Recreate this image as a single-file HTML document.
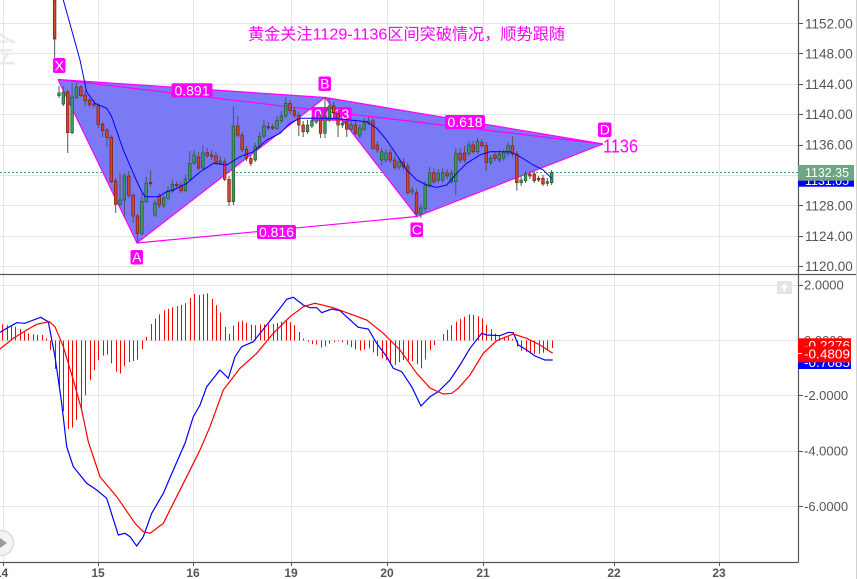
<!DOCTYPE html>
<html><head><meta charset="utf-8">
<style>
html,body{margin:0;padding:0;background:#fff;}
svg{display:block;font-family:"Liberation Sans","Noto Sans CJK SC",sans-serif;}
</style></head>
<body>
<svg id="s" width="857" height="579" viewBox="0 0 857 579" xmlns="http://www.w3.org/2000/svg">
<rect x="0" y="0" width="857" height="579" fill="#fff"/>
<!-- watermark -->
<text x="-23" y="62" font-size="40" fill="#ebebeb" font-family="Noto Sans CJK SC, sans-serif">金</text>
<!-- grid -->
<g stroke="#e6e6e6" stroke-width="1">
<line x1="3.5" y1="0" x2="3.5" y2="562"/><line x1="98.5" y1="0" x2="98.5" y2="562"/>
<line x1="193.5" y1="0" x2="193.5" y2="562"/><line x1="291.5" y1="0" x2="291.5" y2="562"/>
<line x1="387.5" y1="0" x2="387.5" y2="562"/><line x1="483.5" y1="0" x2="483.5" y2="562"/>
<line x1="614.5" y1="0" x2="614.5" y2="562"/><line x1="719.5" y1="0" x2="719.5" y2="562"/>
<line x1="0" y1="23.5" x2="798" y2="23.5"/><line x1="0" y1="53.5" x2="798" y2="53.5"/>
<line x1="0" y1="84.5" x2="798" y2="84.5"/><line x1="0" y1="114.5" x2="798" y2="114.5"/>
<line x1="0" y1="145.5" x2="798" y2="145.5"/><line x1="0" y1="175.5" x2="798" y2="175.5"/>
<line x1="0" y1="205.5" x2="798" y2="205.5"/><line x1="0" y1="236.5" x2="798" y2="236.5"/>
<line x1="0" y1="266.5" x2="798" y2="266.5"/>
<line x1="0" y1="285.5" x2="798" y2="285.5"/><line x1="0" y1="340.5" x2="798" y2="340.5"/>
<line x1="0" y1="395.5" x2="798" y2="395.5"/><line x1="0" y1="451.5" x2="798" y2="451.5"/>
<line x1="0" y1="506.5" x2="798" y2="506.5"/>
</g>
<!-- last price dotted -->
<line x1="0" y1="172.5" x2="798" y2="172.5" stroke="#4f9a6b" stroke-width="1" stroke-dasharray="2 2"/>
<!-- harmonic pattern fills -->
<polygon points="58,79.5 137,243 325,97.5" fill="#7a7af5"/>
<polygon points="325,97.5 417,216.5 603,144" fill="#7a7af5"/>
<g stroke="#ff00ff" stroke-width="1.2" fill="none">
<polyline points="58,79.5 137,243 325,97.5 417,216.5 603,144"/>
<line x1="58" y1="79.5" x2="325" y2="97.5"/>
<line x1="325" y1="97.5" x2="603" y2="144"/>
<line x1="137" y1="243" x2="417" y2="216.5"/>
<line x1="58" y1="79.5" x2="603" y2="144"/>
</g>
<!-- labels -->
<g fill="#ff00ff">
<rect x="53" y="58" width="12.5" height="15" rx="2"/>
<rect x="130.5" y="250" width="12.5" height="14.5" rx="2"/>
<rect x="318.5" y="76.5" width="12.5" height="14.5" rx="2"/>
<rect x="410.5" y="222.5" width="12.5" height="14.5" rx="2"/>
<rect x="598" y="122.5" width="13.5" height="14.5" rx="2"/>
<rect x="171.5" y="83.3" width="41" height="14.3" rx="2"/>
<rect x="257" y="225" width="39" height="14" rx="2"/>
<rect x="445" y="115" width="40" height="14.3" rx="2"/>
<rect x="311.7" y="107" width="40" height="13.7" rx="2"/>
</g>
<g fill="#fff" font-size="14" text-anchor="middle">
<text x="59.3" y="70.3">X</text>
<text x="136.8" y="262">A</text>
<text x="324.8" y="88.6">B</text>
<text x="416.8" y="234.6">C</text>
<text x="604.8" y="134.6">D</text>
<text x="192" y="95.3">0.891</text>
<text x="276.5" y="237">0.816</text>
<text x="465" y="127.2">0.618</text>
<text x="331.7" y="119">0.613</text>
</g>
<text x="603" y="152.5" font-size="18" fill="#ff00ff" textLength="35" lengthAdjust="spacingAndGlyphs">1136</text>
<text x="248" y="39.5" font-size="16" fill="#ff00ff" textLength="317" lengthAdjust="spacingAndGlyphs">黄金关注1129-1136区间突破情况，顺势跟随</text>
<!-- candles -->
<g id="candles"></g>
<!-- MA -->
<polyline fill="none" stroke="#0000ff" stroke-width="1" points="63.3,0 80,60 86.7,92 95,103.3 106.7,108.3 111.7,116.7 123.3,150 133.3,173.3 140,188.3 145,196.7 158.3,196.7 166.7,191.7 173.3,190 186.7,183.3 200,172 213.3,163.3 226.7,165 240,156.7 253.3,151.7 266.7,140 280,133.3 290,123.3 300,118.3 313.3,118.3 333.3,118.3 350,120 366.7,121.7 376.7,128.3 386.7,140 393.3,150 406.7,170 416.7,180 426.7,185 436.7,187.3 446.7,185 456.7,173.3 466.7,163.3 480,155 490,151.7 510,151.7 520,156.7 533.3,165 543.3,170 551.7,178.3"/>
<!-- MACD -->
<g id="hist" stroke="#ff0000" stroke-width="1"></g>
<polyline id="macd" fill="none" stroke="#0000ff" stroke-width="1.2" points="0,332.3 6.7,328.3 16.7,322.7 25,323.3 33.3,320 40.7,317.3 48.3,321.7 55,356.7 61.7,403.3 66.7,446.7 73.3,466.7 86.7,483.3 96.7,490 106.7,498.3 118.3,535 125,533.3 130,536.7 136.7,546 143.3,536.7 151.7,513.3 163.3,493.3 173.3,470 185,443.3 193.3,416.7 200,405 206.7,386.7 220,370 228.3,378.3 235,356.7 241.7,346.7 253.3,341.7 266.7,325 280,308.3 286.7,299.3 293.3,297.3 303.3,305 310,307.7 316.7,307.7 321.7,312.7 331.7,309 340,310.7 348.3,318.3 358.3,327.3 368.3,329 376.7,343.3 386.7,356.7 393.3,368.3 401.7,371.7 411.7,386.7 421,406 430,396.7 438.3,391.7 450,380 460,365 470,348.3 481.7,333.3 486.7,335 500,335.7 508.3,332.3 513.3,332.7 518.3,345 526.7,350 535,356 545,360 552.7,360"/>
<polyline id="sig" fill="none" stroke="#ff0000" stroke-width="1.2" points="0,349 13.3,338.3 26.7,330 36.7,324.3 49.3,321.7 55,326.7 63.3,346.7 73.3,380 81.7,410 88.3,441.7 100,476.7 116.7,496.7 135,523.3 143.3,531.7 150,533.3 163.3,523.3 173.3,503.3 186.7,476.7 200,450 210,426.7 223.3,390 240,368.3 256.7,353.3 273.3,333.3 290,316.7 303.3,306.7 315,303.3 333.3,307.7 346.7,312.7 366.7,320 383.3,333.3 400,350 416.7,373.3 430,388 443.3,394 451.7,393.3 458.3,388.3 470,375 483.3,353.3 496.7,340.7 513.3,334 526.7,338.3 540,345 552.7,353.3"/>
<!-- axes -->
<line x1="0" y1="274.5" x2="857" y2="274.5" stroke="#5a5a5a" stroke-width="1.3"/>
<line x1="798.5" y1="0" x2="798.5" y2="562.5" stroke="#555" stroke-width="1.2"/>
<line x1="0" y1="562.5" x2="798.5" y2="562.5" stroke="#555" stroke-width="1.2"/>
<line x1="856.5" y1="0" x2="856.5" y2="579" stroke="#d0d0d0" stroke-width="1"/>
<g stroke="#555" stroke-width="1">
<line x1="3.5" y1="562" x2="3.5" y2="566"/><line x1="98.5" y1="562" x2="98.5" y2="566"/>
<line x1="193.5" y1="562" x2="193.5" y2="566"/><line x1="291.5" y1="562" x2="291.5" y2="566"/>
<line x1="387.5" y1="562" x2="387.5" y2="566"/><line x1="483.5" y1="562" x2="483.5" y2="566"/>
<line x1="614.5" y1="562" x2="614.5" y2="566"/><line x1="719.5" y1="562" x2="719.5" y2="566"/>
<line x1="799" y1="23.5" x2="803" y2="23.5"/><line x1="799" y1="53.5" x2="803" y2="53.5"/>
<line x1="799" y1="84.5" x2="803" y2="84.5"/><line x1="799" y1="114.5" x2="803" y2="114.5"/>
<line x1="799" y1="145.5" x2="803" y2="145.5"/><line x1="799" y1="205.5" x2="803" y2="205.5"/>
<line x1="799" y1="236.5" x2="803" y2="236.5"/><line x1="799" y1="266.5" x2="803" y2="266.5"/>
<line x1="799" y1="285.5" x2="803" y2="285.5"/><line x1="799" y1="395.5" x2="803" y2="395.5"/>
<line x1="799" y1="451.5" x2="803" y2="451.5"/><line x1="799" y1="506.5" x2="803" y2="506.5"/>
</g>
<g fill="#555" font-size="13.5">
<text x="805" y="28.3">1152.00</text>
<text x="805" y="58.5">1148.00</text>
<text x="805" y="89">1144.00</text>
<text x="805" y="119.2">1140.00</text>
<text x="805" y="149.7">1136.00</text>
<text x="805" y="210.4">1128.00</text>
<text x="805" y="240.8">1124.00</text>
<text x="805" y="271.2">1120.00</text>
</g>
<g fill="#555" font-size="13">
<text x="804" y="289.7">2.0000</text>
<text x="804" y="400.2">-2.0000</text>
<text x="804" y="455.6">-4.0000</text>
<text x="804" y="510.8">-6.0000</text>
<text x="804" y="345.2">0.0000</text>
</g>
<g fill="#555" font-size="12" font-weight="bold" text-anchor="middle">
<text x="1.5" y="577">14</text>
<text x="98" y="577">15</text>
<text x="193" y="577">16</text>
<text x="291" y="577">19</text>
<text x="387" y="577">20</text>
<text x="483" y="577">21</text>
<text x="614" y="577">22</text>
<text x="719" y="577">23</text>
</g>
<!-- price boxes upper -->
<rect x="798" y="172" width="56" height="14.7" fill="#0000ff"/>
<text x="805" y="184.8" font-size="13" fill="#fff" textLength="44" lengthAdjust="spacingAndGlyphs">1131.05</text>
<rect x="798" y="165" width="56" height="15.7" fill="#6ea585"/>
<text x="805" y="177" font-size="13" fill="#fff" textLength="44" lengthAdjust="spacingAndGlyphs">1132.35</text>
<!-- price boxes lower -->
<rect x="798" y="338.3" width="53" height="14" fill="#ff0000"/>
<text x="804" y="350.2" font-size="13" fill="#fff" textLength="46" lengthAdjust="spacingAndGlyphs">-0.2276</text>
<rect x="798" y="355" width="53" height="14" fill="#0000ff"/>
<text x="804" y="367" font-size="13" fill="#fff" textLength="46" lengthAdjust="spacingAndGlyphs">-0.7085</text>
<rect x="798" y="346.3" width="53" height="16" fill="#ff0000"/>
<text x="804" y="358.5" font-size="13" fill="#fff" textLength="46" lengthAdjust="spacingAndGlyphs">-0.4809</text>
<line x1="798" y1="353.5" x2="802" y2="353.5" stroke="#fff" stroke-width="1"/>
<!-- icons -->
<rect x="777" y="281" width="15" height="13" fill="#e4e4e4"/>
<path d="M784.5 283.5 l-3.6 4.2 h2.4 v3.8 h2.4 v-3.8 h2.4 z" fill="#fff"/>
<circle cx="1" cy="543" r="12.5" fill="#f3f3f3" stroke="#dcdcdc" stroke-width="1.5"/>
<path d="M0 538 L7 543 L0 548 Z" fill="#9a9a9a"/>
</svg>
<script>
(function(){
var NS='http://www.w3.org/2000/svg';
var C=[
[-1,'r',0,39,0,58],[0,'g',93,95.5,86,98],[1,'g',92,104,86,106],[2,'r',92,132.7,90,153],[3,'g',97,132.7,83,134],
[4,'g',87,97.7,83,99],[5,'r',87,95.7,85,97],[6,'r',95,100.7,90,106],[7,'r',100,104.3,98,107],[8,'r',104,105.3,100,108],
[9,'r',105.7,124.3,103,128],[10,'r',124.3,130.7,122,137],[11,'r',130,137.3,128,147],[12,'r',137.3,181.7,135,183],
[13,'r',181,204.3,178,213],[14,'g',200,204.3,173,206],[15,'g',176,200,173,217],[16,'r',176,195.3,171,198],
[17,'r',195.3,216,193,223],[18,'r',216,233.3,214,243],[19,'g',201.3,233.3,193,235],[20,'g',183.3,201.3,177,203],
[21,'r',182.3,183.5,170,186],[22,'g',203.3,215,200,217],[23,'r',196,205,193,208],[24,'g',198,205.3,195,208],
[25,'g',191,198.3,186,200],[26,'g',184.3,191,180,193],[27,'r',184.3,185.7,181,188],[28,'r',185.3,190.7,182,193],
[29,'g',179,190.7,175,192],[30,'g',163.3,179,151,181],[31,'g',155,163,150,165],[32,'r',157,168,152,170],
[33,'g',153,168,145,170],[34,'r',152.7,155.7,148,158],[35,'r',155,156.3,150,160],[36,'r',156,162.7,152,165],
[37,'g',161,163,156,165],[38,'r',162,179.3,158,181],[39,'r',179.3,201.7,176,206],[40,'g',126,201.7,106,205],
[41,'r',126,135,116,137],[42,'r',135,149.3,132,152],[43,'r',149.3,158.3,146,161],[44,'r',158.3,163.3,155,166],
[45,'g',146.7,160,143,162],[46,'g',136.7,146.7,132,149],[47,'g',126,136,120,138],[48,'r',126.7,127.9,122,130],
[49,'r',127,128.2,124,130],[50,'g',120.7,128.3,116,130],[51,'g',116,120.7,111,123],[52,'g',103.3,116,97,118],
[53,'r',103.3,110.7,100,114],[54,'r',110.7,115.3,107,118],[55,'r',115.3,125,112,136],[56,'r',125,131.7,121,137],
[57,'g',125,131.7,120,134],[58,'g',120.7,126,117,128],[59,'g',118,122,115,124],[60,'r',118,133.3,114,138],
[61,'g',116.7,133.3,97,138],[62,'g',106,120,98,122],[63,'r',106,112.7,102,115],[64,'r',113.3,125,110,137],
[65,'g',123,125,119,128],[66,'r',121.7,129.3,118,137],[67,'g',125,129,121,131],[68,'r',125,133.3,121,135],
[69,'g',128,135,124,138],[70,'g',122.7,129.3,118,131],[71,'g',121,123.3,117,125],[72,'r',121,148.3,118,150],
[73,'r',145,150,141,153],[74,'g',151.7,160,148,166],[75,'g',153,160,149,163],[76,'r',153,160,149,163],
[77,'r',160,167.3,156,170],[78,'g',162,167,158,170],[79,'r',162,167,158,170],[80,'r',166.7,192.7,163,195],
[81,'g',190,192,187,195],[82,'r',192.7,213.3,189,216],[83,'g',208,213.3,204,218],[84,'g',185,208.3,181,212],
[85,'g',172.7,185,167,188],[86,'r',172.7,181.7,168,184],[87,'g',173,180,169,183],[88,'g',172.7,180,168,183],
[89,'r',173,176,169,179],[90,'g',173.3,181.7,170,184],[91,'g',153.3,181.7,148,195],[92,'r',153.3,160,148,163],
[93,'r',153,160,146,163],[94,'g',145,153.3,141,156],[95,'r',145,151.7,141,154],[96,'g',141.7,151.7,138,154],
[97,'r',142.7,145.7,139,148],[98,'r',145.7,162.3,142,171],[99,'g',158.3,162.3,155,165],[100,'r',155,158.3,151,161],
[101,'g',154,160,150,163],[102,'g',152,158,149,161],[103,'g',145.7,153.3,142,156],[104,'r',145.7,154,136,157],
[105,'r',154,182.7,151,190.7],[106,'g',180,182.7,176,186],[107,'g',174,180.7,171,183],[108,'r',174,176,171,179],
[109,'r',174,180.7,171,183],[110,'r',178.3,180,176,182],[111,'r',178.3,184,175,186],[112,'g',181.7,183.3,178,186],
[113,'g',172.7,182.7,170,185]];
var g=document.getElementById('candles');
var wick='';
var bodies='';
for(var k=0;k<C.length;k++){
 var c=C[k];var x=59+4.36*c[0];
 wick+='M'+x.toFixed(2)+' '+c[4]+'V'+c[5];
}
var wp=document.createElementNS(NS,'path');
wp.setAttribute('d',wick);wp.setAttribute('stroke','#555');wp.setAttribute('stroke-width','1');wp.setAttribute('fill','none');
g.appendChild(wp);
for(var k=0;k<C.length;k++){
 var c=C[k];var x=59+4.36*c[0];
 var r=document.createElementNS(NS,'rect');
 var h=Math.max(1,c[3]-c[2]);
 r.setAttribute('x',(x-1.3).toFixed(2));r.setAttribute('y',c[2]);
 r.setAttribute('width','2.6');r.setAttribute('height',h);
 if(c[1]=='r'){r.setAttribute('fill','#cf452d');r.setAttribute('stroke','#7a1d10');}
 else{r.setAttribute('fill','#3f9a5c');r.setAttribute('stroke','#1f5530');}
 r.setAttribute('stroke-width','0.7');
 g.appendChild(r);
}
function pts(id){return document.getElementById(id).getAttribute('points').trim().split(/\s+/).map(function(p){var a=p.split(',');return [parseFloat(a[0]),parseFloat(a[1])];});}
function interp(P,x){for(var j=0;j<P.length-1;j++){if(x>=P[j][0]&&x<=P[j+1][0]){var t=(x-P[j][0])/(P[j+1][0]-P[j][0]);return P[j][1]+t*(P[j+1][1]-P[j][1]);}}return null;}
var M=pts('macd'),S=pts('sig');
var d='';
for(var k=-13;k<=113;k++){
 var x=59+4.36*k;
 var b=interp(M,x),s=interp(S,x);
 if(b===null||s===null)continue;
 var v=340.5+(b-s);
 var xx=Math.round(x)+0.5;
 d+='M'+xx+' 340.5V'+v.toFixed(1);
}
var hp=document.createElementNS(NS,'path');
hp.setAttribute('d',d);
document.getElementById('hist').appendChild(hp);
})();
</script>
</body></html>
